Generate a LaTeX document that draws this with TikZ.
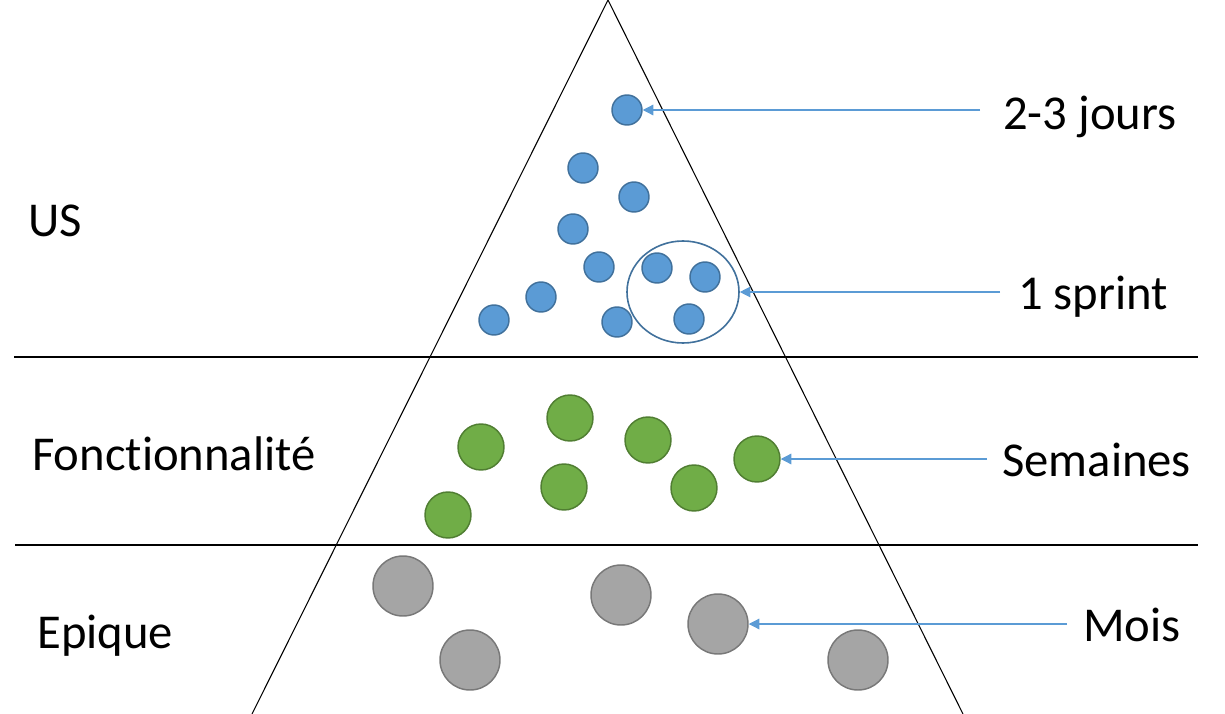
\documentclass[tikz,border=0pt]{standalone}
\usepackage{fontspec}
\setmainfont{Carlito}[Ligatures=NoCommon]
\usepackage{tikz}
\usetikzlibrary{arrows.meta}
\usetikzlibrary{shapes.geometric}

\definecolor{usblue}{RGB}{91,155,213}
\definecolor{usedge}{RGB}{65,113,156}
\definecolor{ftgreen}{RGB}{112,173,71}
\definecolor{ftedge}{RGB}{80,126,50}
\definecolor{epgray}{RGB}{165,165,165}
\definecolor{epedge}{RGB}{120,120,120}

\tikzset{
  usdot/.style={circle,inner sep=0pt,minimum size=22.5pt,fill=usblue,draw=usedge,line width=1.1pt},
  ftdot/.style={circle,inner sep=0pt,minimum size=34.5pt,fill=ftgreen,draw=ftedge,line width=1.1pt},
  epdot/.style={circle,inner sep=0pt,minimum size=45pt,fill=epgray,draw=epedge,line width=1.1pt},
  levelname/.style={anchor=west,inner sep=0pt,font=\fontsize{36.5}{40}\selectfont},
  timename/.style={anchor=west,inner sep=0pt,font=\fontsize{36.5}{40}\selectfont},
  pointer/.style={draw=usblue,line width=0.9pt,-{Triangle[length=8pt,width=8pt]}},
}

\begin{document}
\begin{tikzpicture}[x=0.75pt,y=0.75pt,yscale=-1,xscale=1]
\useasboundingbox (0,0) rectangle (1225,714);

%Triangle
\draw [line width=0.8pt]  (252,714) -- (608,0) -- (963,714) ;
%Straight Lines
\draw [line width=0.8pt]  (14,357) -- (1198,357) ;
%Straight Lines
\draw [line width=0.8pt]  (15,545) -- (1198,545) ;

%US
\node (b1) [usdot] at (627,110) {};
\node (b2) [usdot] at (583,168) {};
\node (b3) [usdot] at (634,197) {};
\node (b4) [usdot] at (573,229) {};
\node (b5) [usdot] at (599,267) {};
\node (b6) [usdot] at (657,268) {};
\node (b7) [usdot] at (705,277) {};
\node (b8) [usdot] at (541,297) {};
\node (b9) [usdot] at (494,320) {};
\node (b10) [usdot] at (617,322) {};
\node (b11) [usdot] at (689,319) {};
%Sprint
\node (sprint) [ellipse,draw=usedge,line width=1.2pt,inner sep=0pt,minimum width=84pt,minimum height=76.5pt] at (683,292) {};

%Fonctionnalites
\node (g1) [ftdot] at (481,447) {};
\node (g2) [ftdot] at (570,418) {};
\node (g3) [ftdot] at (648,440) {};
\node (g4) [ftdot] at (757,459) {};
\node (g5) [ftdot] at (564,487) {};
\node (g6) [ftdot] at (694,488) {};
\node (g7) [ftdot] at (448,515) {};

%Epiques
\node (e1) [epdot] at (403,586) {};
\node (e2) [epdot] at (621,595) {};
\node (e3) [epdot] at (718,624) {};
\node (e4) [epdot] at (470,660) {};
\node (e5) [epdot] at (858,660) {};

% Text Node
\node (us) [levelname] at (28,221) {US};
\node (fonct) [levelname] at (32,454) {Fonctionnalité};
\node (epique) [levelname] at (37,636) {Epique};
\node (jours) [timename] at (1003,117) {2-3 jours};
\node (sprinttxt) [timename] at (1018,297) {1 sprint};
\node (semaines) [timename] at (1002,460) {Semaines};
\node (mois) [timename] at (1083,625) {Mois};

%Arrows
\coordinate (j0) at (980,110);
\coordinate (s0) at (1000,292);
\coordinate (w0) at (987,459);
\coordinate (m0) at (1067,624);
\draw [pointer] (j0) -- (b1.east) ;
\draw [pointer] (s0) -- (sprint.east) ;
\draw [pointer] (w0) -- (g4.east) ;
\draw [pointer] (m0) -- (e3.east) ;

\end{tikzpicture}
\end{document}
